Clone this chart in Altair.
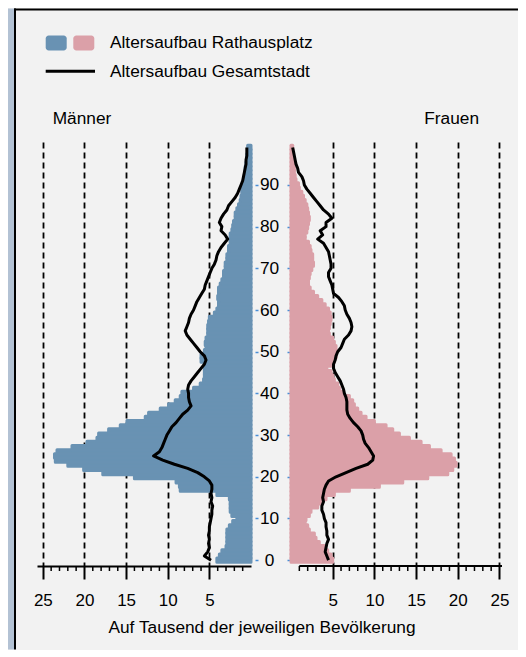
import altair as alt
import pandas as pd

ages = list(range(100))

men_rathaus = [4.1, 3.8, 3.5, 3.0, 2.9, 2.9, 2.9, 2.9, 2.6, 2.2,
               1.7, 2.3, 2.5, 2.5, 2.5, 2.6, 4.1, 8.5, 8.6, 9.0,
               14.0, 17.8, 20.1, 22.0, 23.5, 23.6, 23.3, 21.5, 19.7, 18.5,
               18.3, 17.1, 15.7, 14.9, 12.7, 12.3, 10.9, 9.9, 9.1, 8.5,
               8.3, 6.9, 6.1, 5.7, 5.6, 5.6, 5.6, 5.6, 6.0, 6.0,
               5.6, 5.4, 5.5, 5.4, 5.2, 5.2, 5.2, 5.1, 5.0, 4.4,
               4.1, 3.9, 3.9, 4.0, 3.9, 3.9, 3.7, 3.5, 3.3, 3.3,
               3.1, 3.1, 2.9, 2.9, 2.7, 2.7, 2.5, 2.5, 2.5, 2.3,
               2.2, 2.1, 1.9, 1.9, 1.7, 1.5, 1.3, 1.2, 1.1, 1.1,
               1.0, 0.9, 0.8, 0.7, 0.7, 0.6, 0.5, 0.5, 0.4, 0.4]

women_rathaus = [5.0, 4.8, 4.4, 4.0, 3.4, 3.0, 2.8, 2.2, 2.0, 1.7,
                 1.8, 2.2, 2.4, 3.2, 3.6, 4.2, 5.2, 7.0, 10.6, 13.4,
                 16.4, 18.8, 19.4, 19.8, 19.6, 19.2, 18.0, 16.6, 15.6, 14.2,
                 13.0, 12.2, 11.4, 10.0, 9.0, 8.4, 8.0, 7.6, 7.4, 7.0,
                 6.2, 5.8, 5.6, 5.2, 5.0, 4.8, 4.3, 4.8, 5.2, 5.4,
                 5.4, 5.4, 5.2, 5.0, 4.6, 4.5, 4.6, 4.7, 4.8, 4.7,
                 4.5, 4.1, 3.7, 3.2, 2.7, 2.3, 2.1, 2.1, 2.2, 2.3,
                 2.5, 2.7, 2.6, 2.6, 2.4, 2.3, 2.1, 1.7, 1.7, 1.9,
                 2.0, 2.1, 2.2, 2.1, 2.0, 1.9, 1.7, 1.5, 1.3, 1.0,
                 0.9, 0.6, 0.5, 0.4, 0.4, 0.3, 0.3, 0.3, 0.2, 0.2]

men_stadt = [4.8, 5.6, 5.2, 5.0, 5.1, 5.0, 5.1, 5.0, 5.0, 4.9,
             4.8, 4.7, 4.7, 4.6, 4.8, 4.7, 4.8, 4.7, 4.7, 5.0,
             5.6, 6.4, 7.6, 9.2, 10.6, 11.7, 11.0, 10.7, 10.5, 10.3,
             10.1, 9.8, 9.5, 9.0, 8.6, 8.2, 7.6, 7.2, 7.4, 7.5,
             7.5, 7.6, 7.5, 7.2, 6.8, 6.4, 6.0, 5.6, 5.4, 5.6,
             6.1, 6.5, 6.9, 7.3, 7.7, 7.9, 7.7, 7.5, 7.4, 7.2,
             6.9, 6.7, 6.5, 6.2, 5.9, 5.6, 5.5, 5.3, 5.1, 4.9,
             4.7, 4.4, 4.2, 4.1, 3.9, 3.6, 3.2, 2.8, 3.1, 3.6,
             3.5, 3.8, 3.6, 3.3, 2.9, 2.7, 2.3, 1.9, 1.6, 1.4,
             1.2, 1.0, 0.9, 0.8, 0.7, 0.6, 0.6, 0.5, 0.5, 0.5]

women_stadt = [4.5, 4.3, 4.1, 4.2, 4.3, 4.5, 4.3, 4.3, 4.2, 4.2,
               4.0, 3.9, 3.7, 3.7, 3.9, 3.8, 3.9, 4.0, 4.2, 4.5,
               5.4, 6.6, 7.8, 9.2, 9.8, 9.9, 9.6, 9.3, 8.9, 8.7,
               8.6, 8.4, 8.0, 7.5, 7.1, 6.8, 6.7, 6.7, 6.7, 6.6,
               6.4, 6.3, 6.1, 5.9, 5.6, 5.3, 5.1, 5.1, 5.3, 5.4,
               5.6, 6.0, 6.2, 6.4, 6.9, 7.2, 7.3, 7.2, 7.0, 6.7,
               6.5, 6.4, 6.1, 5.7, 5.1, 5.0, 4.9, 4.7, 4.5, 4.5,
               4.8, 4.8, 4.7, 4.6, 4.5, 4.2, 3.9, 3.2, 3.8, 3.5,
               4.2, 4.2, 4.9, 4.5, 3.9, 3.5, 3.1, 2.7, 2.3, 1.9,
               1.6, 1.5, 1.3, 0.9, 0.8, 0.6, 0.5, 0.4, 0.3, 0.2]

major_ticks = [5, 10, 15, 20, 25]
minor_ticks = [t for t in range(1, 26) if t % 5 != 0]
age_ticks = list(range(0, 100, 10))

legend_bars = "Altersaufbau Rathausplatz"
legend_line = "Altersaufbau Gesamtstadt"
label_men = "Männer"
label_women = "Frauen"
axis_title = "Auf Tausend der jeweiligen Bevölkerung"

BLUE = "#6992b3"
PINK = "#dba0a8"
TICKBLUE = "#4a8fd6"
FONT = "Liberation Sans"
FS = 17.3

H = 424
WL = 214
WR = 211

men = pd.DataFrame({"age": ages, "v": men_rathaus, "s": men_stadt})
women = pd.DataFrame({"age": ages, "v": women_rathaus, "s": women_stadt})
one = pd.DataFrame({"a": [0]})
minor_df = pd.DataFrame({"t": minor_ticks})

yscale = alt.Scale(domain=[-1.4, 100.3], nice=False, zero=False)


def xaxis(domain=True):
    return alt.Axis(values=major_ticks, tickSize=13, tickWidth=2, tickColor="black",
                    domain=domain, domainColor="black", domainWidth=2,
                    labelFontSize=17, labelPadding=13, labelColor="black", labelFont=FONT,
                    grid=True, gridDash=[6, 4], gridColor="black", gridWidth=1.8,
                    title=None)


def panel(df, color, xdom, reverse, yaxis, right_side):
    xsc = alt.Scale(domain=xdom, reverse=reverse, nice=False, zero=True)
    base = alt.Chart(df).transform_calculate(lo="datum.age - 0.5", hi="datum.age + 0.5", z="0")
    bars = base.mark_bar(color=color, stroke=color, strokeWidth=3, strokeJoin="round").encode(
        x=alt.X("v:Q", scale=xsc, axis=xaxis(domain=not right_side)),
        x2="z:Q",
        y=alt.Y("lo:Q", scale=yscale, axis=yaxis),
        y2="hi:Q",
    )
    line = alt.Chart(df).mark_line(color="black", strokeWidth=3, strokeJoin="round").encode(
        x=alt.X("s:Q", scale=xsc),
        y=alt.Y("age:Q", scale=yscale),
        order="age:Q",
    )
    minor = alt.Chart(minor_df).mark_rule(color="black", strokeWidth=1.5).encode(
        x=alt.X("t:Q", scale=xsc),
        y=alt.value(H),
        y2=alt.value(H + 5),
    )
    layers = [bars, line, minor]
    if right_side:
        dline = alt.Chart(one).mark_rule(color="black", strokeWidth=2).encode(
            x=alt.datum(1, scale=xsc), x2=alt.datum(xdom[1]), y=alt.value(H))
        layers.append(dline)
    return layers


yaxis_left = alt.Axis(orient="right", values=age_ticks, tickSize=3, tickWidth=1.5,
                      tickColor=TICKBLUE, offset=4, domain=False, labelFontSize=FS,
                      labelAlign="center", labelPadding=11, labelColor="black",
                      labelFont=FONT, grid=False, title=None)
yaxis_right = alt.Axis(orient="left", values=age_ticks, tickSize=3, tickWidth=1.5,
                       tickColor=TICKBLUE, offset=1, domain=False, labels=False,
                       grid=False, title=None)

# frame, legend and labels, positioned relative to the left panel
strip = alt.Chart(one).mark_rect(color="#b3c2d4").encode(
    x=alt.value(-29), x2=alt.value(-23), y=alt.value(-133.5), y2=alt.value(507.5))
vborder = alt.Chart(one).mark_rect(color="black").encode(
    x=alt.value(-23), x2=alt.value(-21), y=alt.value(-133.5), y2=alt.value(507.5))
hborder = alt.Chart(one).mark_rect(color="black").encode(
    x=alt.value(-23), x2=alt.value(481), y=alt.value(-133.5), y2=alt.value(-131.5))
sq1 = alt.Chart(one).mark_rect(color=BLUE, cornerRadius=3).encode(
    x=alt.value(8.7), x2=alt.value(29.7), y=alt.value(-106.5), y2=alt.value(-91.5))
sq2 = alt.Chart(one).mark_rect(color=PINK, cornerRadius=3).encode(
    x=alt.value(36.3), x2=alt.value(57.3), y=alt.value(-106.5), y2=alt.value(-91.5))
lg_line = alt.Chart(one).mark_rule(color="black", strokeWidth=3).encode(
    x=alt.value(8.7), x2=alt.value(58), y=alt.value(-70.8))


def txt(s, x, y, align="left", size=FS):
    return alt.Chart(one).mark_text(text=s, align=align, baseline="middle", fontSize=size,
                                    font=FONT, color="black").encode(
        x=alt.value(x), y=alt.value(y))


deco = [strip, vborder, hborder, sq1, sq2, lg_line,
        txt(legend_bars, 73, -99.5), txt(legend_line, 73, -70.5),
        txt(label_men, 15.7, -23.5), txt(label_women, 442, -23.5, align="right"),
        txt(axis_title, 225, 485.5, align="center")]

left = alt.layer(*deco, *panel(men, BLUE, [0, 25.7], True, yaxis_left, False)).properties(
    width=WL, height=H)
right = alt.layer(*panel(women, PINK, [0, 25.3], False, yaxis_right, True)).properties(
    width=WR, height=H)

chart = alt.hconcat(left, right, spacing=40, bounds="flush").properties(
    padding=0, background="#f2f2f2"
).configure_view(stroke=None)

chart.save("out.html", embed_options={"renderer": "svg", "actions": False})
